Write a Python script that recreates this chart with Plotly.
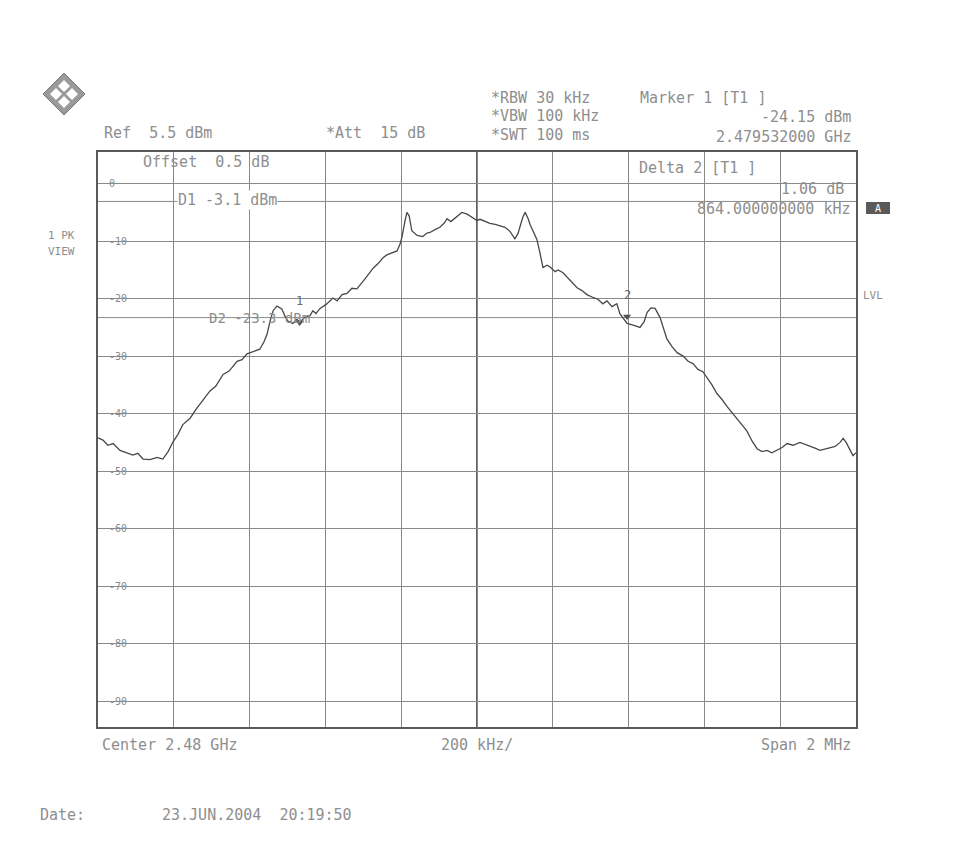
import plotly.graph_objects as go

# ---- data ----
center_mhz = 2480.0
offset_khz = [-1000, -987, -974, -960, -942, -926, -908, -895, -881, -863, -844, -829, -815, -802,
              -789, -776, -757, -741, -731, -718, -705, -689, -670, -654, -633, -620, -607, -588,
              -573, -562, -554, -546, -538, -528, -515, -507, -499, -486, -475, -467, -454, -441,
              -433, -425, -414, -398, -380, -369, -356, -343, -330, -317, -309, -296, -282, -274,
              -261, -248, -238, -222, -211, -203, -198, -190, -185, -179, -172, -158, -143, -132,
              -124, -111, -98, -87, -79, -69, -58, -48, -40, -26, -11, 0, 8, 24, 34, 48, 61, 74,
              87, 95, 100, 108, 113, 121, 127, 135, 140, 150, 158, 166, 174, 185, 193, 206, 214,
              227, 237, 253, 264, 277, 290, 306, 319, 332, 343, 356, 369, 377, 385, 396, 412, 430,
              441, 449, 459, 470, 483, 493, 501, 515, 528, 544, 557, 570, 583, 596, 607, 620, 633,
              646, 660, 675, 694, 712, 726, 739, 752, 765, 778, 792, 805, 818, 834, 852, 865, 879,
              892, 905, 918, 931, 945, 958, 966, 974, 984, 992, 1000]
level_dbm = [-44.2, -44.6, -45.5, -45.2, -46.4, -46.8, -47.2, -46.9, -47.9, -48.0, -47.6, -47.9, -46.6, -44.9,
             -43.6, -41.9, -40.8, -39.2, -38.4, -37.2, -36.1, -35.2, -33.2, -32.6, -30.9, -30.6, -29.6, -29.2,
             -28.8, -27.5, -26.2, -23.9, -22.1, -21.3, -21.8, -23.0, -23.9, -24.3, -23.6, -24.1, -23.2, -23.0,
             -22.1, -22.6, -21.7, -21.0, -19.9, -20.4, -19.3, -19.1, -18.2, -18.3, -17.7, -16.6, -15.4, -14.7,
             -13.9, -12.9, -12.4, -12.0, -11.7, -10.5, -9.3, -6.5, -5.0, -5.6, -8.2, -9.0, -9.2, -8.6,
             -8.5, -8.0, -7.6, -6.9, -6.1, -6.6, -6.0, -5.4, -5.0, -5.3, -5.9, -6.4, -6.2, -6.7, -6.9, -7.1, -7.4, -7.6,
             -8.3, -9.1, -9.6, -8.7, -7.6, -5.8, -5.0, -6.1, -7.1, -8.4, -9.7, -12.0, -14.6, -14.2, -14.5, -15.3, -15.0,
             -15.5, -16.2, -17.4, -18.1, -18.6, -19.3, -19.8, -20.1, -20.9, -20.4, -21.4, -20.9, -22.6, -23.3, -24.3, -24.6, -25.0,
             -24.0, -22.4, -21.6, -21.7, -23.3, -25.6, -27.0, -28.4, -29.4, -30.0, -30.9, -31.3, -32.3, -32.7, -33.7, -35.0, -36.5,
             -37.5, -38.8, -40.0, -41.5, -43.0, -44.8, -46.1, -46.6, -46.4, -46.8, -46.3, -45.9, -45.2, -45.5, -45.0, -45.3, -45.6,
             -46.0, -46.4, -46.2, -45.9, -45.7, -45.0, -44.3, -45.0, -46.4, -47.3, -46.8]

ref_level = 5.5
y_bottom = -94.5
span_mhz = 2.0
ytick_vals = [0, -10, -20, -30, -40, -50, -60, -70, -80, -90]
ytick_text = ["0", "-10", "-20", "-30", "-40", "-50", "-60", "-70", "-80", "-90"]
display_lines = {"D1": -3.1, "D2": -23.3}
marker_freq_mhz = [2479.532, 2480.396]
marker_level = [-24.15, -23.09]
marker_names = ["1", "2"]

freq_mhz = [center_mhz + k / 1000.0 for k in offset_khz]

# ---- figure ----
OFF = 8                      # page body margin
W, H = 954 - OFF, 852 - OFF
L, R, T, B = 98, 856, 152, 727   # plot area in window pixels
GREY = "#8e8e8e"
FONT = "DejaVu Sans Mono"
FS = 15


def px(x):
    return (x - L) / (R - L)


def py(y):
    return (B - y) / (B - T)


fig = go.Figure()
fig.add_trace(go.Scatter(x=freq_mhz, y=level_dbm, mode="lines",
                         line=dict(color="#484848", width=1.3), hoverinfo="skip", showlegend=False))
fig.add_trace(go.Scatter(x=marker_freq_mhz, y=marker_level, mode="markers",
                         marker=dict(symbol="triangle-down", size=7, color="#505050"),
                         showlegend=False, hoverinfo="skip"))

shapes = []
for name, val in display_lines.items():
    shapes.append(dict(type="line", xref="paper", yref="y", x0=0, x1=1, y0=val, y1=val,
                       line=dict(color="#8a8a8a", width=1), layer="below"))
shapes.append(dict(type="line", xref="x", yref="paper", x0=center_mhz, x1=center_mhz, y0=0, y1=1,
                   line=dict(color="#606060", width=2), layer="below"))
shapes.append(dict(type="rect", xref="paper", yref="paper", x0=px(866), x1=px(890), y0=py(214), y1=py(202),
                   fillcolor="#5a5a5a", line=dict(width=0)))
cx, cy, r = 64, 94, 21
shapes.append(dict(type="path", xref="paper", yref="paper",
                   path=f"M {px(cx)} {py(cy - r)} L {px(cx + r)} {py(cy)} L {px(cx)} {py(cy + r)} L {px(cx - r)} {py(cy)} Z",
                   fillcolor="#9a9a9a", line=dict(color="#7a7a7a", width=1)))
for dx, dy in [(-8, 0), (8, 0), (0, -8), (0, 8)]:
    s = 6
    x0, y0 = cx + dx, cy + dy
    shapes.append(dict(type="path", xref="paper", yref="paper",
                       path=f"M {px(x0)} {py(y0 - s)} L {px(x0 + s)} {py(y0)} L {px(x0)} {py(y0 + s)} L {px(x0 - s)} {py(y0)} Z",
                       fillcolor="#ffffff", line=dict(width=0)))

annotations = []

# marker numbers above the marker positions
for mf, ml, mn in zip(marker_freq_mhz, marker_level, marker_names):
    annotations.append(dict(x=mf, y=ml, xref="x", yref="y", text=mn, showarrow=False,
                            yshift=21, xanchor="center", yanchor="middle",
                            font=dict(family=FONT, size=12, color="#6a6a6a")))


def txt(x, y, s, anchor="left", size=FS, color=GREY, bg=None):
    d = dict(x=px(x), y=py(y), xref="paper", yref="paper", text=s, showarrow=False,
             xanchor=anchor, yanchor="middle", font=dict(family=FONT, size=size, color=color))
    if bg:
        d["bgcolor"] = bg
        d["borderpad"] = 0
    annotations.append(d)


txt(102, 133, "Ref  5.5 dBm")
txt(324, 133, "*Att  15 dB")
txt(489, 98, "*RBW 30 kHz")
txt(489, 116, "*VBW 100 kHz")
txt(489, 135, "*SWT 100 ms")
txt(638, 98, "Marker 1 [T1 ]")
txt(853, 117, "-24.15 dBm", anchor="right")
txt(853, 137, "2.479532000 GHz", anchor="right")
txt(141, 162, "Offset  0.5 dB")
txt(637, 168, "Delta 2 [T1 ]")
txt(846, 189, "1.06 dB", anchor="right")
txt(853, 209, "864.000000000 kHz", anchor="right")
txt(177, 200, "D1 -3.1 dBm", bg="white")
txt(207, 318, "D2 -23.3 dBm", size=14)
txt(46, 236, "1 PK", size=11)
txt(46, 251, "VIEW", size=11)
txt(878, 208, "A", anchor="center", size=10, color="white")
txt(861, 295, "LVL", size=11)
txt(100, 745, "Center 2.48 GHz")
txt(477, 745, "200 kHz/", anchor="center")
txt(853, 745, "Span 2 MHz", anchor="right")
txt(38, 815, "Date:")
txt(160, 815, "23.JUN.2004  20:19:50")

fig.update_layout(
    width=W, height=H,
    margin=dict(l=L - OFF, r=W - (R - OFF), t=T - OFF, b=H - (B - OFF)),
    paper_bgcolor="white", plot_bgcolor="white",
    shapes=shapes, annotations=annotations,
    xaxis=dict(range=[center_mhz - span_mhz / 2, center_mhz + span_mhz / 2], dtick=0.2, tick0=center_mhz,
               showticklabels=False, showgrid=True, gridcolor="#8a8a8a", gridwidth=1,
               showline=True, linecolor="#5a5a5a", linewidth=2, mirror=True, zeroline=False, ticks=""),
    yaxis=dict(range=[y_bottom, ref_level], tickvals=ytick_vals, ticktext=ytick_text,
               ticklabelposition="inside", ticks="inside", ticklen=8, tickcolor="#8a8a8a",
               ticklabelstandoff=2,
               tickfont=dict(family=FONT, size=10, color="#8a8a8a"),
               showgrid=True, gridcolor="#8a8a8a", gridwidth=1,
               showline=True, linecolor="#5a5a5a", linewidth=2, mirror=True, zeroline=False),
)

fig.write_html("out.html")
